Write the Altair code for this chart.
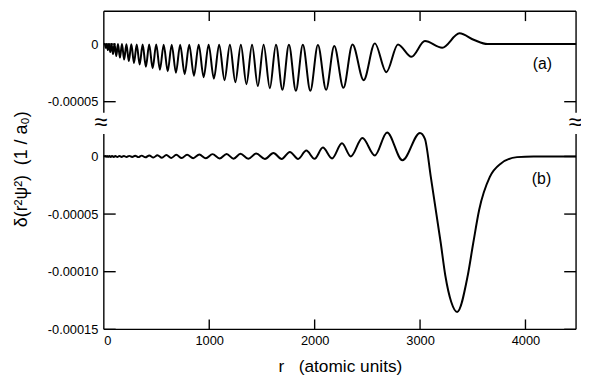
import altair as alt
import pandas as pd

# ---------------- data (r in atomic units, values in units of 1e-6 / a0) ----------------
# panel (a): extrema of the oscillating curve
a_r = [0, 9, 19, 28, 38, 49, 61, 73, 87, 101, 118, 134, 153, 172, 193, 214, 237, 261, 286,
       312, 340, 368, 399, 430, 463, 497, 532, 568, 606, 644, 684, 724, 767, 810, 855, 900,
       947, 994, 1044, 1094, 1145, 1196, 1248, 1300, 1353, 1406, 1461, 1516, 1575, 1633,
       1694, 1756, 1822, 1888, 1959, 2031, 2109, 2186, 2273, 2359, 2465, 2571, 2680, 2790,
       2918, 3046, 3210, 3374, 3514, 3639, 3889, 4480]
a_v = [0, 0, -3.5, 0, -5.2, 0, -7.0, 0, -8.7, 0, -10.4, 0, -11.7, 0, -13.5, -0.2, -14.8, -0.2,
       -16.5, -0.3, -17.8, -0.3, -19.6, -0.4, -20.9, -0.4, -22.2, -0.5, -23.5, -0.5, -24.8,
       -0.5, -26.1, -0.5, -27.4, -0.5, -28.7, -0.5, -30.0, -0.5, -31.3, -0.5, -33.1, -0.5,
       -34.8, -0.5, -36.5, -0.5, -38.3, -0.5, -39.6, -0.5, -40.5, -0.5, -40.5, -0.8, -39.6,
       -1.7, -38.0, -0.3, -31.3, 0.6, -24.4, -0.3, -11.0, 2.6, -3.2, 9.3, 3.5, 0, 0, 0]

# panel (b)
b_r = [0, 14, 22, 31, 41, 52, 65, 78, 94, 110, 128, 147, 169, 190, 216, 241, 269, 297, 328,
       359, 395, 431, 470, 509, 551, 593, 640, 687, 739, 790, 848, 906, 968, 1031, 1098,
       1165, 1231, 1296, 1371, 1446, 1528, 1609, 1687, 1765, 1843, 1921, 1999, 2078, 2165,
       2259, 2343, 2453, 2571, 2687, 2833, 2999, 3046, 3102, 3196, 3240, 3296, 3352, 3452,
       3505, 3561, 3662, 3765, 3920, 4077, 4480]
b_v = [0, 0.3, -0.3, 0.3, -0.3, 0.3, -0.4, 0.4, -0.4, 0.4, -0.4, 0.4, -0.4, 0.4, -0.5, 0.5,
       -0.5, 0.6, -0.6, 0.7, -0.8, 0.9, -1.0, 1.1, -1.2, 1.3, -1.3, 1.4, -1.4, 1.5, -1.5, 1.7,
       -1.6, 2.0, -1.8, 2.1, -2.0, 2.3, -2.1, 2.6, -2.2, 3.0, -2.2, 3.9, -2.2, 5.1, -2.1, 7.7,
       -1.7, 11.4, 0.0, 16.0, 0.9, 20.8, -3.4, 20.3, 15.2, -17.8, -74.9, -103.5, -126.3,
       -134.9, -103.5, -74.9, -46.3, -17.8, -6.3, -0.6, 0, 0]

assert len(a_r) == len(a_v) and len(b_r) == len(b_v)

x_ticks = [0, 1000, 2000, 3000, 4000]
x_tick_labels = ["0", "1000", "2000", "3000", "4000"]
y_tick_real_a = [0, -0.00005]
y_tick_labels_a = ["0", "-0.00005"]
y_tick_real_b = [0, -0.00005, -0.00010, -0.00015]
y_tick_labels_b = ["0", "-0.00005", "-0.00010", "-0.00015"]
panel_labels = ["(a)", "(b)"]

# ---------------- layout of the broken axis ----------------
OFFSET = 0.0000975           # vertical shift of panel (a) on the shared axis
YMIN, YMAX = -0.00015, 0.000126
XMIN, XMAX = 0, 4480
BREAK_HI, BREAK_LO = 0.0000380, 0.0000195
W, H = 478, 322
FONT = "Liberation Sans"

df_a = pd.DataFrame({"r": a_r, "v": [v * 1e-6 + OFFSET for v in a_v]})
df_b = pd.DataFrame({"r": b_r, "v": [v * 1e-6 for v in b_v]})

ytick_vals = [round(v + OFFSET, 10) for v in y_tick_real_a] + y_tick_real_b
ytick_labs = y_tick_labels_a + y_tick_labels_b

label_expr = "''"
for v, l in reversed(list(zip(ytick_vals, ytick_labs))):
    label_expr = f"abs(datum.value - ({v:.7f})) < 0.0000001 ? '{l}' : ({label_expr})"
xlabel_expr = "''"
for v, l in reversed(list(zip(x_ticks, x_tick_labels))):
    xlabel_expr = f"datum.value == {v} ? '{l}' : ({xlabel_expr})"

xs = alt.Scale(domain=[XMIN, XMAX], nice=False, zero=False)
ys = alt.Scale(domain=[YMIN, YMAX], nice=False, zero=False)

x_axis = alt.Axis(values=x_ticks, labelExpr=xlabel_expr, ticks=False, domain=False, grid=False,
                  labelPadding=5, labelFontSize=13, labelFont=FONT, labelColor="black",
                  title="r\u00a0\u00a0\u00a0(atomic units)", titleFont=FONT, titleFontSize=17.5,
                  titleFontWeight="normal", titleColor="black", titlePadding=11)
y_axis = alt.Axis(values=ytick_vals, labelExpr=label_expr, ticks=False, domain=False, grid=False,
                  labelPadding=6, labelFontSize=13, labelFont=FONT, labelColor="black",
                  title="")


def X(field):
    return alt.X(field, type="quantitative", scale=xs, axis=x_axis)


def Y(field):
    return alt.Y(field, type="quantitative", scale=ys, axis=y_axis)


line_a = alt.Chart(df_a).mark_line(color="black", strokeWidth=2, interpolate="monotone").encode(
    x=X("r"), y=Y("v"))
line_b = alt.Chart(df_b).mark_line(color="black", strokeWidth=2, interpolate="monotone").encode(
    x=X("r"), y=Y("v"))

# frame (with gaps at the axis break)
frame_df = pd.DataFrame({"y1": [YMAX, BREAK_LO], "y2": [BREAK_HI, YMIN]})
left_frame = alt.Chart(frame_df).mark_rule(color="black", strokeWidth=1.4).encode(
    x=alt.value(0), y=Y("y1"), y2="y2:Q")
right_frame = alt.Chart(frame_df).mark_rule(color="black", strokeWidth=1.4).encode(
    x=alt.value(W), y=Y("y1"), y2="y2:Q")
hz_df = pd.DataFrame({"x1": [XMIN], "x2": [XMAX]})
top_frame = alt.Chart(hz_df).mark_rule(color="black", strokeWidth=1.4).encode(
    x=X("x1"), x2="x2:Q", y=alt.value(0))
bot_frame = alt.Chart(hz_df).mark_rule(color="black", strokeWidth=1.4).encode(
    x=X("x1"), x2="x2:Q", y=alt.value(H))

# inward ticks
xt_df = pd.DataFrame({"t": x_ticks[1:]})
yt_df = pd.DataFrame({"t": ytick_vals})
xt_bot = alt.Chart(xt_df).mark_rule(color="black", strokeWidth=1.4).encode(
    x=X("t"), y=alt.value(H - 10), y2=alt.value(H))
xt_top = alt.Chart(xt_df).mark_rule(color="black", strokeWidth=1.4).encode(
    x=X("t"), y=alt.value(0), y2=alt.value(10))
yt_left = alt.Chart(yt_df).mark_rule(color="black", strokeWidth=1.4).encode(
    y=Y("t"), x=alt.value(0), x2=alt.value(12))
yt_right = alt.Chart(yt_df).mark_rule(color="black", strokeWidth=1.4).encode(
    y=Y("t"), x=alt.value(W - 12), x2=alt.value(W))

# break marks
brk_df = pd.DataFrame({"s": ["\u2248"], "y": [0.0000290]})
brk_left = alt.Chart(brk_df).mark_text(fontSize=24, font=FONT, color="black", baseline="middle").encode(
    x=alt.value(-3), y=Y("y"), text="s:N")
brk_right = alt.Chart(brk_df).mark_text(fontSize=24, font=FONT, color="black", baseline="middle").encode(
    x=alt.value(W - 1), y=Y("y"), text="s:N")

# panel labels
pl_df = pd.DataFrame({"s": panel_labels, "r": [4161, 4152], "y": [0.0000801, -0.0000193]})
plabels = alt.Chart(pl_df).mark_text(fontSize=16, font=FONT, color="black", baseline="middle").encode(
    x=X("r"), y=Y("y"), text="s:N")

# y title
yt_title = alt.Chart(pd.DataFrame({"s": ["\u03b4(r\u00b2\u03c8\u00b2)\u00a0\u00a0(1 / a\u2080)"]})).mark_text(
    angle=270, fontSize=18, font=FONT, color="black", baseline="middle", align="center").encode(
    x=alt.value(-83), y=alt.value(160), text="s:N")

chart = alt.layer(
    line_a, line_b, left_frame, right_frame, top_frame, bot_frame,
    xt_bot, xt_top, yt_left, yt_right, brk_left, brk_right, plabels, yt_title,
).properties(
    width=W, height=H,
    autosize=alt.AutoSizeParams(type="none"),
    padding={"left": 97, "top": 1, "right": 5, "bottom": 46},
).configure_view(stroke=None)

chart.save("out.html", embed_options={"renderer": "svg", "actions": False})
